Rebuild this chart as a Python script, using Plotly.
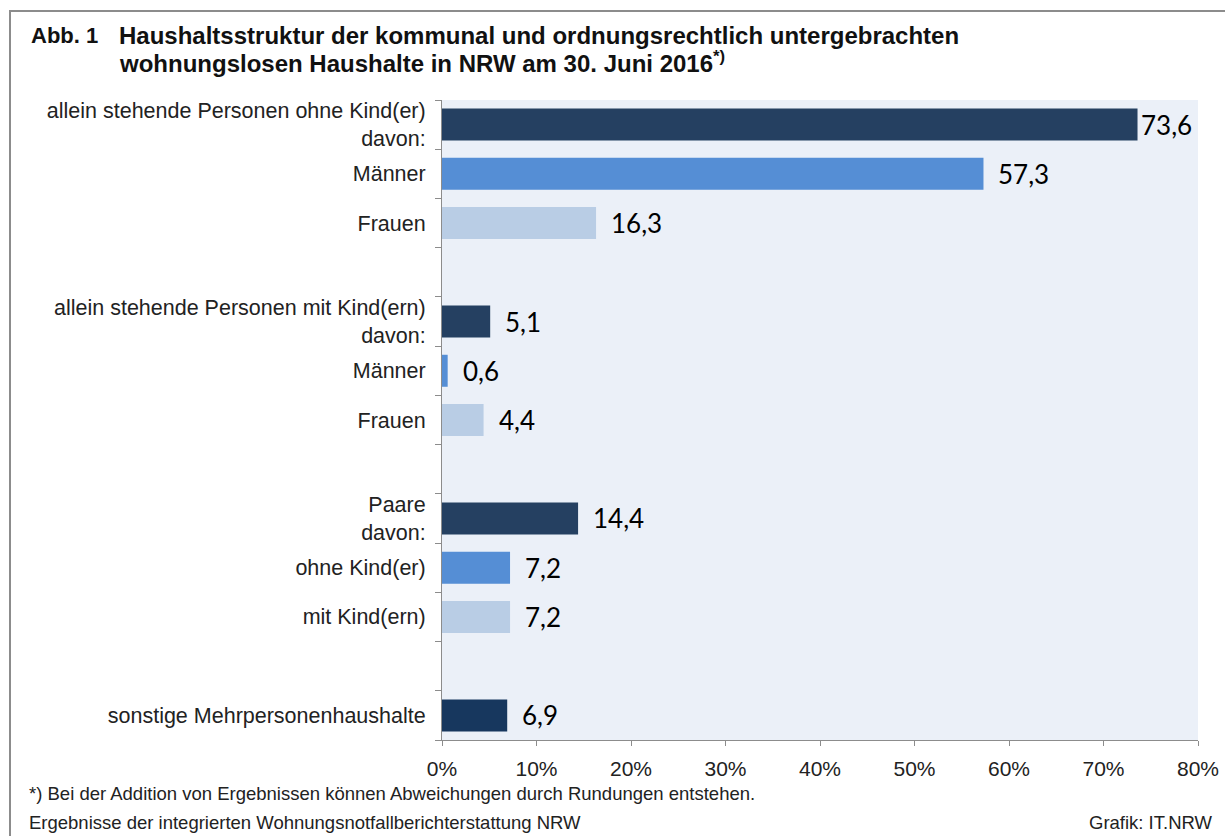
import plotly.graph_objects as go

# ---- data ----
categories = [
    "allein stehende Personen ohne Kind(er)<br>davon:",
    "Männer",
    "Frauen",
    "",
    "allein stehende Personen mit Kind(ern)<br>davon:",
    "Männer",
    "Frauen",
    "",
    "Paare<br>davon:",
    "ohne Kind(er)",
    "mit Kind(ern)",
    "",
    "sonstige Mehrpersonenhaushalte",
]
values = [73.6, 57.3, 16.3, None, 5.1, 0.6, 4.4, None, 14.4, 7.2, 7.2, None, 6.9]
value_labels = ["73,6", "57,3", "16,3", "", "5,1", "0,6", "4,4", "", "14,4", "7,2", "7,2", "", "6,9"]
x_ticks = [0, 10, 20, 30, 40, 50, 60, 70, 80]
x_ticklabels = ["0%", "10%", "20%", "30%", "40%", "50%", "60%", "70%", "80%"]
title_lines = [
    "<b>Haushaltsstruktur der kommunal und ordnungsrechtlich untergebrachten</b>",
    "<b>wohnungslosen Haushalte in NRW am 30. Juni 2016<sup>*)</sup></b>",
]

# ---- styles ----
bar_colors = ["#254061", "#558ED5", "#B9CDE5", "#FFFFFF",
              "#254061", "#558ED5", "#B9CDE5", "#FFFFFF",
              "#254061", "#558ED5", "#B9CDE5", "#FFFFFF",
              "#17375E"]
label_shift = [1, 13, 13, 0, 13, 13, 13, 0, 13, 13, 13, 0, 13]

W, H = 1225, 836
L, R, T, B = 442, 1198, 100, 740


def px(x):
    return (x - L) / (R - L)


def py(y):
    return (B - y) / (B - T)


rows = [i for i, v in enumerate(values) if v is not None]
n = len(categories)

fig = go.Figure()
fig.add_trace(go.Bar(
    x=[values[i] for i in rows], y=rows, orientation="h",
    width=0.65,
    marker=dict(color=[bar_colors[i] for i in rows], line=dict(width=0)),
    hoverinfo="skip",
))

annotations = []
for i in rows:
    annotations.append(dict(
        x=values[i], y=i, xref="x", yref="y", text=value_labels[i], showarrow=False,
        xanchor="left", yanchor="middle", xshift=label_shift[i],
        font=dict(family="Lato", size=26, color="#000000"),
    ))

text_font = "Liberation Sans, Arial, sans-serif"
annotations += [
    dict(x=px(29), y=py(35), xref="paper", yref="paper", text="<b>Abb. 1</b>",
         showarrow=False, xanchor="left", yanchor="middle",
         font=dict(family=text_font, size=22, color="#111111")),
    dict(x=px(117), y=py(35), xref="paper", yref="paper", text=title_lines[0],
         showarrow=False, xanchor="left", yanchor="middle",
         font=dict(family=text_font, size=24, color="#111111")),
    dict(x=px(117), y=py(62), xref="paper", yref="paper", text=title_lines[1],
         showarrow=False, xanchor="left", yanchor="middle",
         font=dict(family=text_font, size=24, color="#111111")),
    dict(x=px(27), y=py(793), xref="paper", yref="paper",
         text="*) Bei der Addition von Ergebnissen können Abweichungen durch Rundungen entstehen.",
         showarrow=False, xanchor="left", yanchor="middle",
         font=dict(family=text_font, size=18.5, color="#222222")),
    dict(x=px(27), y=py(822), xref="paper", yref="paper",
         text="Ergebnisse der integrierten Wohnungsnotfallberichterstattung NRW",
         showarrow=False, xanchor="left", yanchor="middle",
         font=dict(family=text_font, size=18.5, color="#222222")),
    dict(x=px(1215), y=py(822), xref="paper", yref="paper",
         text="Grafik: IT.NRW",
         showarrow=False, xanchor="right", yanchor="middle",
         font=dict(family=text_font, size=18.5, color="#222222")),
]

fig.update_layout(
    width=W, height=H,
    autosize=False,
    margin=dict(l=L, r=W - R, t=T, b=H - B, pad=0, autoexpand=False),
    paper_bgcolor="#FFFFFF",
    plot_bgcolor="#EBF0F8",
    showlegend=False,
    annotations=annotations,
    shapes=[dict(type="rect", xref="paper", yref="paper",
                 x0=px(10), x1=px(1260), y0=py(11), y1=py(880),
                 line=dict(color="#8C8C8C", width=2), layer="below")],
    font=dict(family=text_font, color="#222222"),
)
fig.update_xaxes(
    automargin=False,
    range=[0, 80], tickvals=x_ticks, ticktext=x_ticklabels,
    showgrid=False, zeroline=False,
    showline=True, linecolor="#8C8C8C", linewidth=1,
    ticks="outside", ticklen=5, tickcolor="#8C8C8C",
    ticklabelstandoff=5,
    tickfont=dict(family=text_font, size=21, color="#222222"),
)
fig.update_yaxes(
    automargin=False,
    range=[n - 0.5, -0.5],
    tickmode="array",
    tickvals=[i for i, c in enumerate(categories) if c],
    ticktext=[c for c in categories if c],
    showgrid=False, zeroline=False,
    showline=True, linecolor="#8C8C8C", linewidth=1,
    ticks="", ticklen=6,
    minor=dict(tickmode="array", tickvals=[i - 0.5 for i in range(n + 1)],
               ticks="outside", ticklen=6, tickcolor="#8C8C8C", showgrid=False),
    ticklabelstandoff=11,
    tickfont=dict(family=text_font, size=21.5, color="#222222"),
)

fig.write_html("out.html", config={"displayModeBar": False},
               post_script="document.body.style.margin='0px';")
